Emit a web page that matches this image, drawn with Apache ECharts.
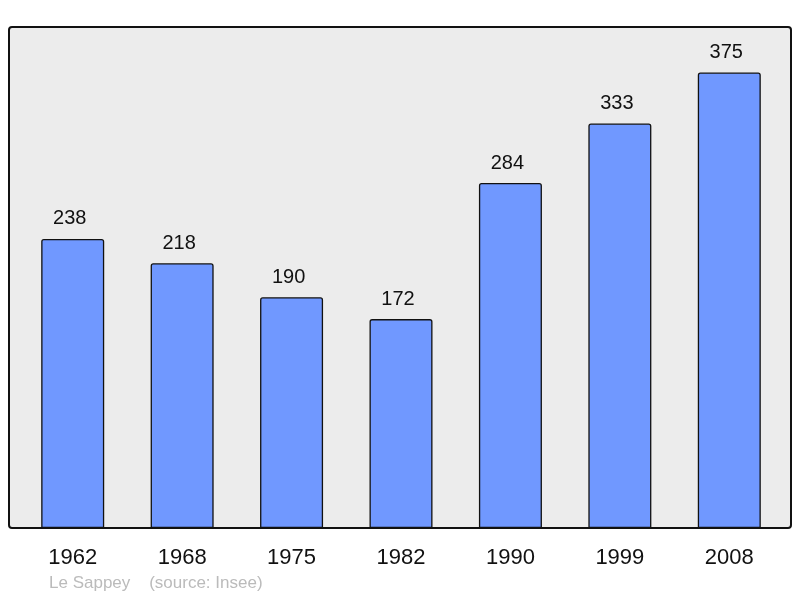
<!DOCTYPE html>
<html>
<head>
<meta charset="utf-8">
<script src="https://cdn.jsdelivr.net/npm/echarts@6/dist/echarts.min.js"></script>
<style>
  html, body { margin: 0; padding: 0; background: #fff; }
  #chart { width: 800px; height: 598px; }
</style>
</head>
<body>
<div id="chart"></div>
<script>
const years = ['1962', '1968', '1975', '1982', '1990', '1999', '2008'];
const population = [238, 218, 190, 172, 284, 333, 375];
const footer = 'Le Sappey    (source: Insee)';

const chart = echarts.init(document.getElementById('chart'), null, { renderer: 'canvas' });

const option = {
  animation: false,
  backgroundColor: '#ffffff',
  textStyle: { fontFamily: 'Liberation Sans, Arial, sans-serif' },
  graphic: [
    {
      type: 'rect',
      z: -1,
      shape: { x: 9, y: 27, width: 782, height: 501, r: 3 },
      style: { fill: '#ececec', stroke: '#111', lineWidth: 2 }
    },
    {
      type: 'text',
      left: 49,
      top: 575,
      style: {
        text: footer,
        fill: '#bbbbbb',
        font: '17px "Liberation Sans", Arial, sans-serif'
      }
    }
  ],
  grid: { left: 18, right: 16, top: 27, bottom: 70 },
  xAxis: {
    type: 'category',
    data: years,
    axisLine: { show: false },
    axisTick: { show: false },
    axisLabel: { fontSize: 22, color: '#111', margin: 19 }
  },
  yAxis: {
    type: 'value',
    min: 0,
    max: 412.5,
    show: false,
    splitLine: { show: false }
  },
  series: [{
    type: 'bar',
    data: population,
    barWidth: 63,
    itemStyle: {
      color: '#7098ff',
      borderColor: '#111',
      borderWidth: 1.3,
      borderRadius: [2, 2, 0, 0]
    },
    label: {
      show: true,
      position: 'top',
      distance: 10,
      offset: [-3, 0],
      fontSize: 20,
      color: '#111'
    }
  }]
};

chart.setOption(option);
</script>
</body>
</html>
